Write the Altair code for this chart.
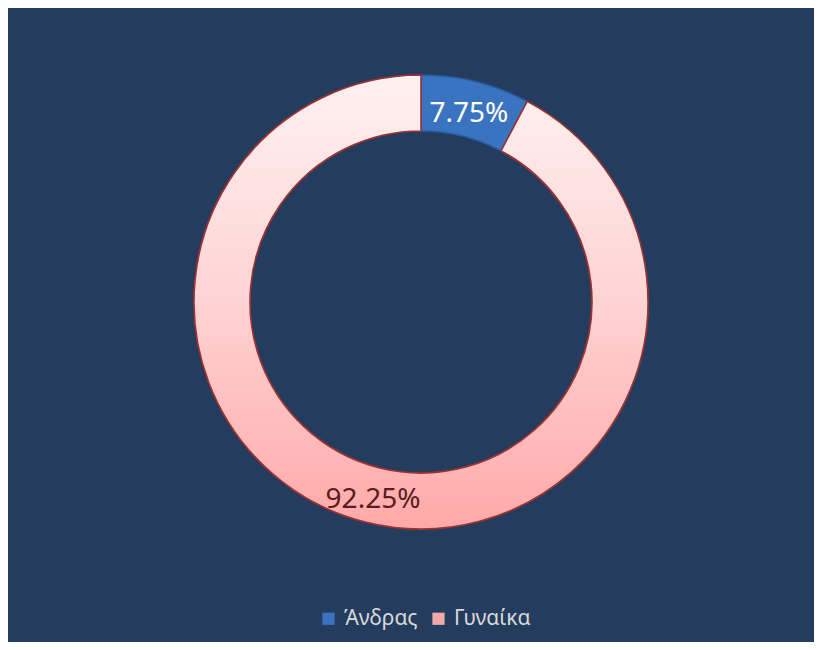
import altair as alt
import pandas as pd

categories = ["Άνδρας", "Γυναίκα"]
values = [7.75, 92.25]
labels = ["7.75%", "92.25%"]

df = pd.DataFrame({"sex": categories, "value": values, "label": labels,
                   "order": [0, 1]})

CX, CY = 413, 294
BLUE = "#3A74C0"

grad = alt.Gradient(
    gradient="linear", x1=0.5, y1=0, x2=0.5, y2=1,
    stops=[alt.GradientStop(color="#FFF1F1", offset=0),
           alt.GradientStop(color="#FFD3D3", offset=0.5),
           alt.GradientStop(color="#FFA9A9", offset=1)],
)

base = alt.Chart(df).encode(
    theta=alt.Theta("value:Q", stack=True),
    order=alt.Order("order:Q"),
    x=alt.value(CX), y=alt.value(CY),
)

arc_legend = base.mark_arc(outerRadius=227, innerRadius=171, strokeWidth=1.5).encode(
    color=alt.Color("sex:N", scale=alt.Scale(domain=categories, range=[BLUE, "#F0A8A8"]),
                    legend=alt.Legend(
                        title=None, orient="none", legendX=310, legendY=600,
                        direction="horizontal", symbolType="square", symbolSize=150,
                        symbolStrokeWidth=1.5, labelFontSize=21, labelColor="#D9D9D9",
                        labelFont="Noto Sans", columnPadding=10, symbolOffset=0,
                        labelOffset=5)),
    stroke=alt.Stroke("sex:N", scale=alt.Scale(domain=categories, range=["#23497E", "#8E2E2E"]),
                      legend=None),
)

arc_fill = base.mark_arc(outerRadius=227, innerRadius=171, strokeWidth=1.6).encode(
    fill=alt.condition(alt.datum.sex == "Γυναίκα", alt.value(grad), alt.value(BLUE)),
    stroke=alt.condition(alt.datum.sex == "Γυναίκα", alt.value("#9A3434"), alt.value("#2B5A96")),
)

text = base.mark_text(radius=199, fontSize=28, font="Noto Sans", dy=5).encode(
    text="label:N",
    color=alt.Color("sex:N", scale=alt.Scale(domain=categories, range=["#FFFFFF", "#5A1C1C"]),
                    legend=None),
)

chart = alt.layer(arc_legend, arc_fill, text).resolve_scale(color="independent").properties(
    width=806, height=634, padding=0, autosize=alt.AutoSizeParams(type="none"),
    background="#243C5E",
).configure_view(strokeWidth=0)

chart.save("out.html", embed_options={"renderer": "svg", "actions": False})
